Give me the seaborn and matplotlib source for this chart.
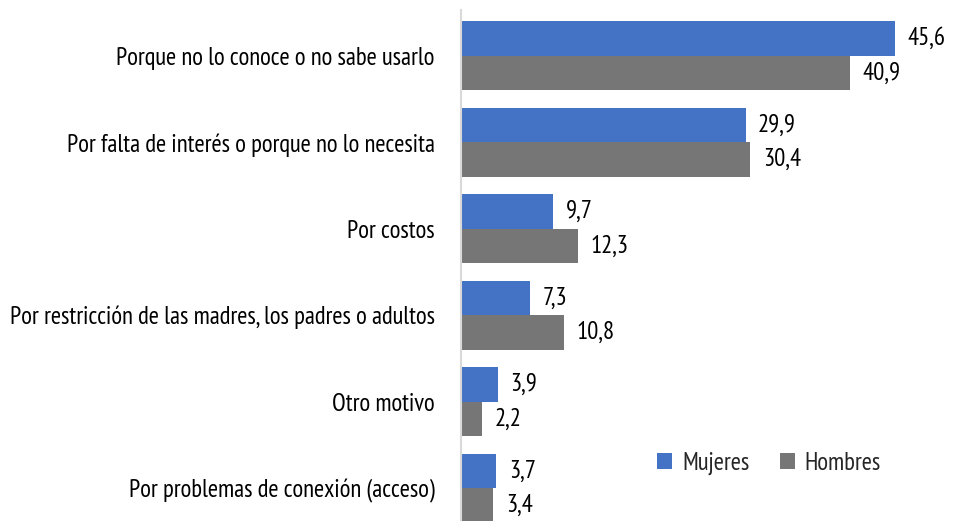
import pandas as pd
import seaborn as sns
import matplotlib.pyplot as plt

# --- DATA ---
motivos = [
    "Porque no lo conoce o no sabe usarlo",
    "Por falta de interés o porque no lo necesita",
    "Por costos",
    "Por restricción de las madres, los padres o adultos",
    "Otro motivo",
    "Por problemas de conexión (acceso)",
]
mujeres = [45.6, 29.9, 9.7, 7.3, 3.9, 3.7]
hombres = [40.9, 30.4, 12.3, 10.8, 2.2, 3.4]
grupos = ["Mujeres", "Hombres"]
colores = ["#4472C4", "#767676"]

df = pd.DataFrame({
    "Motivo": motivos * 2,
    "Valor": mujeres + hombres,
    "Sexo": [grupos[0]] * len(motivos) + [grupos[1]] * len(motivos),
})

sns.set_style("white")
plt.rcParams['font.family'] = ['PT Sans Narrow', 'DejaVu Sans']
FS = 17.8

fig = plt.figure(figsize=(9.54, 5.21), dpi=100)
ax = fig.add_axes([461 / 954, 0, 493 / 954, 511 / 521])

sns.barplot(
    data=df, x="Valor", y="Motivo", hue="Sexo", orient="h",
    palette=colores, width=0.8, saturation=1, linewidth=0, ax=ax,
)

for cont in ax.containers:
    ax.bar_label(cont, labels=[f"{v:.1f}".replace(".", ",") for v in cont.datavalues],
                 padding=9, fontsize=FS, color="black")

ax.set_xlim(0, 51.8)
ax.set_ylim(5.38, -0.53)
ax.set_xlabel("")
ax.set_ylabel("")
ax.set_xticks([])
ax.tick_params(axis="y", length=0, pad=19, labelsize=FS, labelcolor="black")

for s in ["top", "right", "bottom"]:
    ax.spines[s].set_visible(False)
ax.spines["left"].set_color("#d9d9d9")
ax.spines["left"].set_linewidth(1.5)

ax.legend(loc="center", bbox_to_anchor=(0.625, 0.113), ncol=2, frameon=False,
          fontsize=FS, handlelength=0.6, handleheight=0.6, columnspacing=1.25,
          handletextpad=0.4)

plt.savefig("out.png", dpi=100)
